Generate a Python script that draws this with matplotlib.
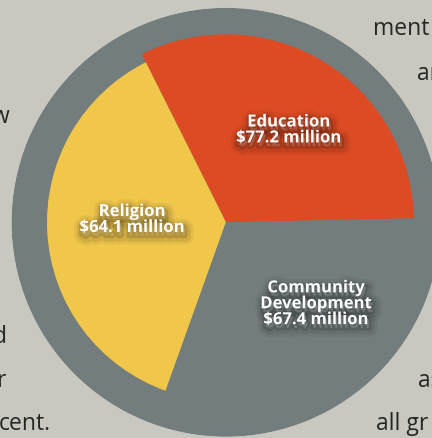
import numpy as np
import matplotlib
matplotlib.use("Agg")
import matplotlib.pyplot as plt
import matplotlib.patheffects as pe

# Datos
categorias = ["Education", "Religion", "Community\nDevelopment"]
montos = [77.2, 64.1, 67.4]          # millones de dolares (etiquetas)
arcos_deg = [115.4, 133.7, 110.9]    # apertura de cada sector en la imagen
radios = [188, 179, 188]             # radio de cada sector
inicio_deg = 1.2
radio_anillo = 214.5

colores = ["#dc4b23", "#f0c64b", "#737d7e"]
fondo = "#c8c8c0"
gris = "#737d7e"

W, H = 432, 439
fig = plt.figure(figsize=(W / 100, H / 100), dpi=100)
fig.patch.set_facecolor(fondo)

# Fragmentos del texto del documento alrededor del grafico
fragmentos = [
    ("ment", 373, 35), ("an", 417, 80), ("w", -8, 123),
    ("d", -7, 343), ("r", -3, 387), ("cent.", -1, 430),
    ("as", 418, 387), ("all gr", 376, 430),
]
for txt, x, y in fragmentos:
    fig.text(x / W, 1 - y / H, txt, fontsize=16.5, color="#262626",
             family="Open Sans", ha="left", va="baseline")

# Ejes polares centrados en el circulo
cx, cy = 226, 223.3
ax = fig.add_axes([(cx - radio_anillo) / W, (H - cy - radio_anillo) / H,
                   2 * radio_anillo / W, 2 * radio_anillo / H],
                  projection="polar")
ax.set_axis_off()
ax.set_ylim(0, radio_anillo)

# Anillo exterior
ax.bar(0, radio_anillo, width=2 * np.pi, bottom=0, color=gris, linewidth=0)

# Sectores
inicios = inicio_deg + np.concatenate([[0], np.cumsum(arcos_deg)[:-1]])
ax.bar(np.radians(inicios), radios, width=np.radians(arcos_deg),
       bottom=0, align="edge", color=colores, linewidth=0)

# Etiquetas con sombra
sombra = [
    pe.Stroke(linewidth=12, foreground="black", alpha=0.05, offset=(1.5, -3)),
    pe.Stroke(linewidth=8, foreground="black", alpha=0.08, offset=(1.5, -3)),
    pe.Stroke(linewidth=4, foreground="black", alpha=0.14, offset=(1, -2.5)),
    pe.Normal(),
]
pos_etiquetas = [(56, 112), (178, 94), (318, 121)]
for cat, m, (ang, r) in zip(categorias, montos, pos_etiquetas):
    t = ax.text(np.radians(ang), r, f"{cat}\n${m:.1f} million",
                ha="center", va="center", color="white", fontsize=12,
                fontweight="bold", family="Open Sans", linespacing=0.85)
    t.set_path_effects(sombra)

plt.savefig("out.png", dpi=100, facecolor=fondo)
plt.close()
